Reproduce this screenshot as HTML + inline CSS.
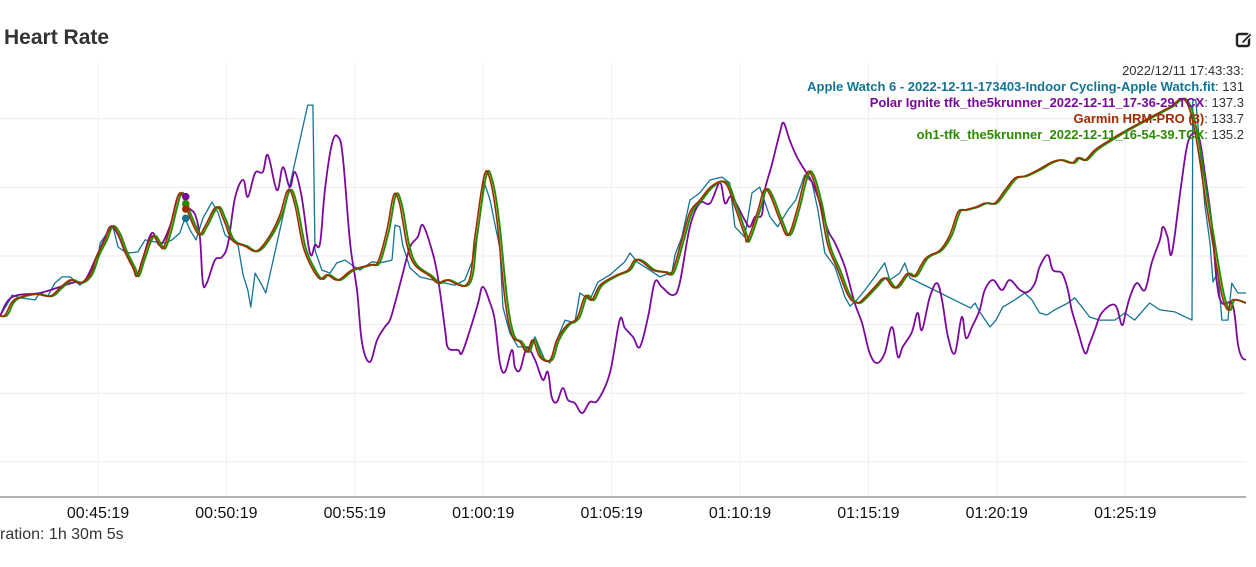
<!DOCTYPE html>
<html><head><meta charset="utf-8">
<style>
html,body{margin:0;padding:0;background:#fff;width:1256px;height:567px;overflow:hidden;font-family:"Liberation Sans",Arial,sans-serif;}
#title{position:absolute;left:4px;top:26px;font-size:21px;font-weight:bold;color:#333;}
#dur{position:absolute;left:0;top:526px;font-size:16px;color:#333;}
svg{position:absolute;left:0;top:0;}
.leg{font-size:13px;}
</style></head>
<body>
<div id="title">Heart Rate</div>
<div id="dur">ration: 1h 30m 5s</div>
<svg id="chart" width="1256" height="567">
  <g id="grid"></g>
  <g id="series"></g>
  <g id="axis"></g>
  <g transform="translate(1236,31)">
    <rect x="1" y="3" width="12" height="12" rx="2" fill="none" stroke="#222" stroke-width="2.4"/>
    <path d="M6 10 L14 2 L16 4 L8 12 L5.5 12.5 Z" fill="#222" stroke="#fff" stroke-width="1"/>
  </g>
  <g id="legend" text-anchor="end" class="leg"></g>
</svg>
<script>
// ----- data (time = seconds since 00:41:30 view start, values in bpm) -----
const tickTimes = [229,529,829,1129,1429,1729,2029,2329,2629];
const tickLabels = ["00:45:19","00:50:19","00:55:19","01:00:19","01:05:19","01:10:19","01:15:19","01:20:19","01:25:19"];
const gridValues = [60,80,100,120,140,160];

const appleT = [0,23,28,47,82,93,112,128,145,164,187,210,227,234,252,264,276,292,304,322,339,362,385,402,420,432,444,458,474,495,509,526,556,568,579,586,596,612,621,642,719,731,736,752,771,787,806,822,841,869,888,916,923,934,941,958,981,1040,1063,1086,1103,1117,1131,1145,1159,1168,1175,1191,1210,1238,1250,1273,1285,1301,1320,1343,1355,1378,1397,1425,1460,1472,1488,1518,1542,1570,1577,1593,1612,1635,1659,1687,1705,1717,1740,1757,1775,1799,1817,1841,1859,1880,1897,1911,1927,1951,1974,1986,2002,2021,2044,2067,2079,2102,2114,2126,2268,2278,2289,2313,2327,2343,2371,2394,2411,2429,2446,2464,2495,2511,2528,2546,2570,2605,2628,2651,2686,2710,2745,2785,2787,2794,2808,2815,2827,2834,2845,2855,2869,2878,2892,2911];
const appleV = [102.5,107.2,108.6,107.8,107.2,109.2,108.3,112.1,113.9,113.9,111.5,114.5,118.3,123.8,127.0,128.5,122.6,121.2,120.9,121.2,124.7,124.1,123.8,124.7,126.7,131.0,127.6,124.7,131.0,135.7,132.8,126.1,123.2,114.5,110.1,105.1,115.0,111.5,109.2,120.9,164.0,164.0,121.7,115.9,115.0,118.0,118.8,117.4,115.9,118.3,118.0,118.8,129.0,128.5,123.2,116.5,113.9,112.1,111.5,113.0,118.3,127.6,141.6,136.3,127.6,122.3,105.1,97.6,93.5,93.5,96.4,89.7,88.8,95.5,101.3,100.5,109.2,107.2,112.4,114.5,118.3,120.9,118.3,115.9,113.9,115.3,120.3,125.5,136.3,138.4,142.2,143.0,141.3,128.5,125.5,138.4,140.1,131.4,128.5,133.4,136.3,143.6,141.6,133.4,120.9,116.8,108.0,105.4,107.2,110.1,113.9,118.0,113.0,115.0,118.0,113.6,104.8,106.3,103.7,99.3,101.3,105.1,107.2,109.2,107.2,103.4,102.8,104.3,106.3,107.8,105.1,102.2,101.3,101.3,103.4,101.3,106.3,104.3,103.7,101.3,165.5,165.5,145.1,134.9,123.8,112.4,115.3,101.3,101.3,112.1,109.2,109.2];

const polarT = [0,28,93,140,175,199,227,245,259,276,292,311,320,334,355,374,397,416,432,439,456,467,474,484,502,519,533,549,568,579,596,614,626,647,661,677,689,705,724,736,748,759,776,790,801,818,834,846,864,881,899,911,923,939,958,976,988,1009,1023,1040,1047,1070,1079,1098,1117,1128,1145,1156,1168,1180,1196,1203,1215,1231,1250,1268,1280,1289,1301,1315,1327,1343,1360,1378,1397,1425,1448,1460,1479,1495,1514,1530,1546,1572,1588,1612,1635,1659,1682,1694,1710,1740,1752,1764,1780,1787,1803,1822,1831,1845,1862,1880,1897,1916,1934,1951,1974,1997,2014,2032,2049,2067,2084,2098,2109,2130,2144,2154,2172,2189,2201,2215,2231,2247,2257,2271,2289,2301,2320,2341,2359,2383,2401,2418,2429,2448,2460,2481,2495,2504,2518,2535,2546,2558,2574,2605,2621,2630,2640,2656,2675,2691,2710,2717,2728,2738,2759,2775,2792,2803,2815,2831,2843,2855,2880,2892,2901,2911];
const polarV = [102.5,108.0,109.2,111.0,112.4,113.0,120.3,125.2,128.7,126.1,121.2,116.5,114.2,119.4,126.7,123.2,128.7,137.5,137.2,134.3,132.0,125.5,112.1,112.4,118.8,119.7,123.8,136.9,142.2,137.2,144.2,144.5,149.4,139.2,145.9,140.1,144.5,137.2,120.9,123.2,123.8,139.2,152.9,154.7,148.9,123.8,110.1,94.6,89.1,95.5,99.3,101.3,106.3,113.9,122.6,125.5,129.0,121.7,113.9,98.4,93.2,92.6,91.7,98.4,106.3,111.0,106.3,101.3,88.8,86.2,92.6,87.6,86.8,93.2,89.7,83.9,86.2,78.9,77.4,81.5,78.0,77.1,74.2,77.4,78.0,85.9,101.3,99.0,96.4,93.5,102.2,112.4,111.0,108.6,112.1,128.5,135.4,135.4,141.3,135.4,137.2,130.5,128.5,131.4,132.0,139.2,146.5,155.9,158.8,153.8,148.9,145.1,141.6,135.4,127.6,123.8,116.8,106.3,100.5,91.7,88.8,91.7,99.3,90.6,93.5,97.6,103.4,98.4,107.8,112.1,107.2,96.4,91.7,102.2,96.1,99.3,104.3,110.1,113.0,110.1,113.0,110.1,109.5,112.1,116.8,120.3,115.9,115.0,110.1,104.3,98.4,91.7,94.6,98.4,103.4,105.7,99.9,103.4,108.0,112.1,110.1,118.0,124.7,128.5,125.5,120.9,140.1,152.9,155.9,153.8,144.2,129.6,112.4,106.3,105.7,94.6,90.6,89.7];

const garminT = [0,12,28,47,82,117,140,164,187,210,227,245,259,276,292,311,320,334,355,374,383,397,416,427,439,463,479,505,523,542,572,600,631,654,673,689,708,729,748,764,790,822,864,883,904,920,934,951,969,1004,1023,1044,1093,1110,1131,1145,1161,1180,1196,1215,1231,1245,1261,1285,1301,1325,1348,1367,1383,1402,1437,1467,1483,1500,1525,1553,1570,1593,1612,1635,1663,1694,1717,1740,1747,1771,1785,1799,1822,1841,1862,1883,1897,1916,1934,1958,1981,2002,2021,2044,2067,2091,2119,2137,2163,2196,2219,2238,2254,2280,2301,2324,2348,2371,2394,2425,2453,2476,2504,2518,2535,2558,2593,2628,2663,2698,2733,2768,2792,2815,2838,2855,2869,2880,2911];
const garminV = [102.5,102.8,106.6,108.0,108.9,108.3,110.7,113.0,112.1,114.5,120.3,124.7,128.7,126.4,121.2,116.5,114.2,119.4,125.8,122.9,122.6,128.2,137.5,137.5,132.8,126.4,128.7,134.3,130.5,124.7,122.9,121.5,126.1,132.0,139.2,134.9,122.9,116.5,113.3,114.5,113.0,115.9,117.4,118.3,127.6,137.8,134.9,123.2,117.4,114.2,112.1,113.0,112.1,126.1,143.3,142.2,130.5,107.2,97.0,94.9,92.0,95.5,90.6,89.7,95.5,99.9,101.9,108.3,107.2,111.5,114.2,115.9,118.8,118.3,115.9,115.3,115.3,124.7,132.8,136.3,140.4,141.3,134.3,126.1,124.7,133.4,139.2,137.8,130.5,126.1,133.4,143.6,143.3,134.9,123.2,115.9,108.6,106.3,108.0,111.0,113.6,110.7,114.8,114.2,119.4,121.7,126.1,132.8,133.4,134.3,135.4,135.4,139.2,142.7,143.3,145.1,147.1,148.0,147.1,148.6,148.0,150.9,153.8,156.4,158.8,161.1,163.4,165.5,156.1,137.8,120.3,108.6,104.3,107.2,106.3];

const oh1T = [0,17,33,52,87,122,145,169,192,215,232,250,264,281,297,316,325,339,360,379,388,402,421,432,444,468,484,510,528,547,577,605,636,659,678,694,713,734,753,769,795,827,869,888,909,925,939,956,974,1009,1028,1049,1098,1115,1136,1150,1166,1185,1201,1220,1236,1250,1266,1290,1306,1330,1353,1372,1388,1407,1442,1472,1488,1505,1530,1558,1575,1598,1617,1640,1668,1699,1722,1745,1752,1776,1790,1804,1827,1846,1867,1888,1902,1921,1939,1963,1986,2007,2026,2049,2072,2096,2124,2142,2168,2201,2224,2243,2259,2285,2306,2329,2353,2376,2399,2430,2458,2481,2509,2523,2540,2563,2598,2633,2668,2703,2738,2773,2797,2820,2843,2860,2874,2885,2911];
const oh1V = [102.5,102.8,106.6,108.0,108.9,108.3,110.7,113.0,112.1,114.5,120.3,124.7,128.7,126.4,121.2,116.5,114.2,119.4,125.8,122.9,122.6,128.2,137.5,137.5,132.8,126.4,128.7,134.3,130.5,124.7,122.9,121.5,126.1,132.0,139.2,134.9,122.9,116.5,113.3,114.5,113.0,115.9,117.4,118.3,127.6,137.8,134.9,123.2,117.4,114.2,112.1,113.0,112.1,126.1,143.3,142.2,130.5,107.2,97.0,94.9,92.0,95.5,90.6,89.7,95.5,99.9,101.9,108.3,107.2,111.5,114.2,115.9,118.8,118.3,115.9,115.3,115.3,124.7,132.8,136.3,140.4,141.3,134.3,126.1,124.7,133.4,139.2,137.8,130.5,126.1,133.4,143.6,143.3,134.9,123.2,115.9,108.6,106.3,108.0,111.0,113.6,110.7,114.8,114.2,119.4,121.7,126.1,132.8,133.4,134.3,135.4,135.4,139.2,142.7,143.3,145.1,147.1,148.0,147.1,148.6,148.0,150.9,153.8,156.4,158.8,161.1,163.4,165.5,156.1,137.8,120.3,108.6,104.3,107.2,106.3];

const hoverT = 434;
const hoverLabels = ["Apple Watch 6 - 2022-12-11-173403-Indoor Cycling-Apple Watch.fit","Polar Ignite tfk_the5krunner_2022-12-11_17-36-29.TCX","Garmin HRM-PRO (3)","oh1-tfk_the5krunner_2022-12-11_16-54-39.TCX"];
const hoverValues = ["131","137.3","133.7","135.2"];
const hoverDotValues = [131,137.3,133.7,135.2];
const hoverDate = "2022/12/11 17:43:33:";

// ----- scales -----
const plotLeft=0, plotRight=1246, plotTop=62, axisY=497;
function xs(t){return t*128.4/300;}
function ys(v){return 256-(v-120)*3.43;}
const NS="http://www.w3.org/2000/svg";
function mk(tag,attrs,parent){const e=document.createElementNS(NS,tag);for(const k in attrs)e.setAttribute(k,attrs[k]);parent.appendChild(e);return e;}

const grid=document.getElementById('grid');
gridValues.forEach(v=>{
  const l=mk('line',{x1:plotLeft,x2:plotRight,y1:ys(v),y2:ys(v),stroke:'#ececec','stroke-width':1},grid);
  
  
});
tickTimes.forEach(t=>{
  const l=mk('line',{x1:xs(t),x2:xs(t),y1:plotTop,y2:axisY,stroke:'#f0f0f0','stroke-width':1},grid);
  
  
});

const axis=document.getElementById('axis');
const al=mk('line',{x1:0,x2:plotRight,y1:axisY,y2:axisY,stroke:'#999','stroke-width':1.5},axis);


tickTimes.forEach((t,i)=>{
  const tx=mk('text',{x:xs(t),y:518,'text-anchor':'middle','font-size':'16px',fill:'#111'},axis);
  tx.textContent=tickLabels[i];
  
  
});

const sg=document.getElementById('series');
function pathLinear(P){return P.map((p,i)=>(i?'L':'M')+p[0].toFixed(1)+' '+p[1].toFixed(1)).join(' ');}
function pathSmooth(P){
  let d='M'+P[0][0].toFixed(1)+' '+P[0][1].toFixed(1);
  for(let i=0;i<P.length-1;i++){
    const p0=P[Math.max(0,i-1)],p1=P[i],p2=P[i+1],p3=P[Math.min(P.length-1,i+2)];
    const k=0.18;
    const c1=[p1[0]+(p2[0]-p0[0])*k,p1[1]+(p2[1]-p0[1])*k];
    const c2=[p2[0]-(p3[0]-p1[0])*k,p2[1]-(p3[1]-p1[1])*k];
    d+=' C'+c1[0].toFixed(1)+' '+c1[1].toFixed(1)+' '+c2[0].toFixed(1)+' '+c2[1].toFixed(1)+' '+p2[0].toFixed(1)+' '+p2[1].toFixed(1);
  }
  return d;
}
function drawSeries(T,V,color,name,w,smooth){
  const P=T.map((t,i)=>[xs(t),ys(V[i])]);
  const p=mk('path',{d:smooth?pathSmooth(P):pathLinear(P),fill:'none',stroke:color,'stroke-width':w,'stroke-linejoin':'round'},sg);
  
  
}
const colors=['#137494','#7b0a9c','#a02c00','#2c8c00'];
drawSeries(appleT,appleV,colors[0],'apple-watch-line',1.3,false);
drawSeries(polarT,polarV,colors[1],'polar-ignite-line',1.8,true);
drawSeries(oh1T,oh1V,colors[3],'oh1-line',2,true);
drawSeries(garminT,garminV,colors[2],'garmin-hrm-pro-line',1.6,true);

[[1,'polar-hover-dot'],[3,'oh1-hover-dot'],[2,'garmin-hover-dot'],[0,'apple-hover-dot']].forEach(([i,n])=>{
  const c=mk('circle',{cx:xs(hoverT),cy:ys(hoverDotValues[i]),r:3.8,fill:colors[i]},sg);
  
  
});

const lg=document.getElementById('legend');
const dt=mk('text',{x:1244,y:75,fill:'#333'},lg);
dt.textContent=hoverDate;


hoverLabels.forEach((lab,i)=>{
  const tx=mk('text',{x:1244,y:91+i*16,fill:'#333'},lg);
  const s=mk('tspan',{fill:colors[i],'font-weight':'bold'},tx);
  s.textContent=lab;
  const s2=mk('tspan',{},tx);
  s2.textContent=': '+hoverValues[i];
  
  
});
</script>
</body></html>
